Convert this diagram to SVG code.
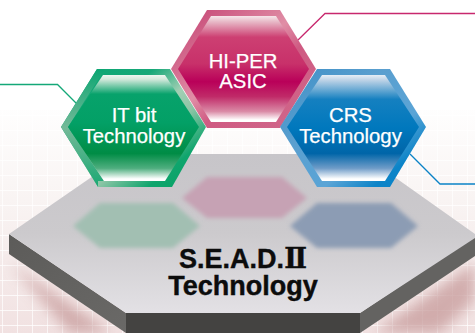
<svg xmlns="http://www.w3.org/2000/svg" width="475" height="333" viewBox="0 0 475 333">
<style>
.lbl{font-family:"Liberation Sans",Arial,sans-serif;font-size:20.3px;fill:#fff;text-anchor:middle;stroke:#fff;stroke-width:.25}
.ttl{font-family:"Liberation Sans",Arial,sans-serif;font-size:27px;font-weight:700;fill:#0c0c0c;text-anchor:middle;stroke:#0c0c0c;stroke-width:.4}
.rom{font-family:"DejaVu Serif","Noto Sans CJK JP",serif;font-weight:700}
.cn{fill:none;stroke-width:1.3}
</style>
<defs>
<linearGradient id="bg" x1="0" y1="0" x2="0" y2="1"><stop offset="0" stop-color="#fff"/><stop offset=".3" stop-color="#fff"/><stop offset=".6" stop-color="#f9f4f3"/><stop offset="1" stop-color="#f1e1e1"/></linearGradient>
<pattern id="grid" width="15" height="15" patternUnits="userSpaceOnUse" x="2" y="10"><path d="M0 0H15M0 0V15" fill="none" stroke="#fff" stroke-width="1.4"/></pattern>
<linearGradient id="top" x1="0" y1="0" x2="0" y2="1"><stop offset="0" stop-color="#c7c5c9"/><stop offset=".5" stop-color="#cccacd"/><stop offset="1" stop-color="#e3e1e5"/></linearGradient>
<linearGradient id="sl" x1="0" y1="0" x2="1" y2="1"><stop offset="0" stop-color="#5c5b59"/><stop offset="1" stop-color="#6a6967"/></linearGradient>
<filter id="b3" x="-20%" y="-30%" width="140%" height="160%"><feGaussianBlur stdDeviation="2.2"/></filter>
<filter id="b6" x="-20%" y="-30%" width="140%" height="160%"><feGaussianBlur stdDeviation="7"/></filter>
<linearGradient id="gO" x1="0" y1="0" x2="1" y2="1"><stop offset="0" stop-color="#0ba672"/><stop offset=".32" stop-color="#17a878"/><stop offset=".5" stop-color="#a2cfb4"/><stop offset=".62" stop-color="#8cc5a6"/><stop offset=".8" stop-color="#0fa56d"/><stop offset="1" stop-color="#04a163"/></linearGradient>
<linearGradient id="gL" x1="0" y1="0" x2="0" y2="1"><stop offset="0" stop-color="#0ba672"/><stop offset=".5" stop-color="#74b998"/><stop offset="1" stop-color="#1aa873"/></linearGradient>
<linearGradient id="gI" x1="0" y1="0" x2="0" y2="1"><stop offset="0" stop-color="#eef6f0"/><stop offset=".04" stop-color="#d4e9dc"/><stop offset=".18" stop-color="#07a26b"/><stop offset=".45" stop-color="#03a066"/><stop offset=".74" stop-color="#008c45"/><stop offset=".88" stop-color="#4fae7f"/><stop offset=".98" stop-color="#fff"/><stop offset="1" stop-color="#fff"/></linearGradient>
<linearGradient id="rO" x1="0" y1="0" x2="1" y2="1"><stop offset="0" stop-color="#c23c6e"/><stop offset=".45" stop-color="#e08ea6"/><stop offset=".6" stop-color="#cf5a82"/><stop offset="1" stop-color="#d06a8c"/></linearGradient>
<linearGradient id="rI" x1="0" y1="0" x2="0" y2="1"><stop offset="0" stop-color="#f6e6ea"/><stop offset=".05" stop-color="#e8bcc9"/><stop offset=".2" stop-color="#cd3f72"/><stop offset=".45" stop-color="#c8316a"/><stop offset=".62" stop-color="#b90059"/><stop offset=".76" stop-color="#c02a68"/><stop offset=".9" stop-color="#da8aa6"/><stop offset=".98" stop-color="#fff"/><stop offset="1" stop-color="#fff"/></linearGradient>
<linearGradient id="bO" x1="0" y1="0" x2="1" y2="1"><stop offset="0" stop-color="#3d8fc6"/><stop offset=".35" stop-color="#5a9fcf"/><stop offset=".65" stop-color="#5aa4d6"/><stop offset=".82" stop-color="#0c84c8"/><stop offset="1" stop-color="#0a82c6"/></linearGradient>
<linearGradient id="bI" x1="0" y1="0" x2="0" y2="1"><stop offset="0" stop-color="#e6eef6"/><stop offset=".05" stop-color="#bcd2e6"/><stop offset=".23" stop-color="#1580c0"/><stop offset=".5" stop-color="#0078bd"/><stop offset=".74" stop-color="#0065a8"/><stop offset=".88" stop-color="#6f9cc8"/><stop offset=".98" stop-color="#fff"/><stop offset="1" stop-color="#fff"/></linearGradient>
</defs>
<rect id="background" width="475" height="333" fill="url(#bg)"/>
<rect width="475" height="333" fill="url(#grid)"/>
<path d="M9 262L112 333H374L475 262V300L440 333H70Z" fill="#c99f9f" opacity=".8" filter="url(#b6)"/>
<rect width="475" height="110" fill="#fff"/>
<g id="connectors">
<path class="cn" stroke="#14a878" d="M0 84.5H57.5L76 103"/>
<path class="cn" stroke="#c8286e" d="M298 40L325 13.5H475"/>
<path class="cn" stroke="#0a82c6" d="M410 154L440 184H475"/>
</g>
<g id="platform">
<path d="M9 234V254L126 333V313Z" fill="url(#sl)"/>
<path d="M126 313H360V333H126Z" fill="#444341"/>
<path d="M360 313L475 236V256L360 333Z" fill="#646361"/>
<path d="M9 234L125 154H362L478 236L360 313H126Z" fill="url(#top)"/>
<path d="M73 226L100 203H173L200 226L173 248H100Z" fill="#a2bfb2" filter="url(#b3)"/>
<path d="M182 198L207 177H282L307 198L282 218H207Z" fill="#c6a2b4" filter="url(#b3)"/>
<path d="M290 226L317 203H391L418 226L391 248H317Z" fill="#8c9cb4" filter="url(#b3)"/>
<text class="ttl" x="243" y="268">S.E.A.D.<tspan class="rom">Ⅱ</tspan></text>
<text class="ttl" x="243" y="295">Technology</text>
</g>
<g id="hi-per-asic">
<path d="M171 69L207 10H280L316 69L280 128H207Z" fill="url(#rO)"/>
<path d="M178 69L211 16H276L309 69L276 122H211Z" fill="url(#rI)"/>
<text class="lbl" x="243" y="68">HI-PER</text>
<text class="lbl" x="243" y="88">ASIC</text>
</g>
<g id="it-bit">
<path d="M61 127L97 69H170L206 127L172 187H98Z" fill="url(#gO)"/>
<path d="M61 127L97 69H105L68 127L104 181H98V187Z" fill="url(#gL)"/>
<path d="M68 127L103 75H165L199 127L165 181H104Z" fill="url(#gI)"/>
<text class="lbl" x="134" y="122">IT bit</text>
<text class="lbl" x="134" y="142.500">Technology</text>
</g>
<g id="crs">
<path d="M280 127L317 69H390L426 127L390 187H317Z" fill="url(#bO)"/>
<path d="M287 127L322 75H385L419 127L385 181H322Z" fill="url(#bI)"/>
<text class="lbl" x="350.500" y="122">CRS</text>
<text class="lbl" x="350.500" y="142.500">Technology</text>
</g>
</svg>
